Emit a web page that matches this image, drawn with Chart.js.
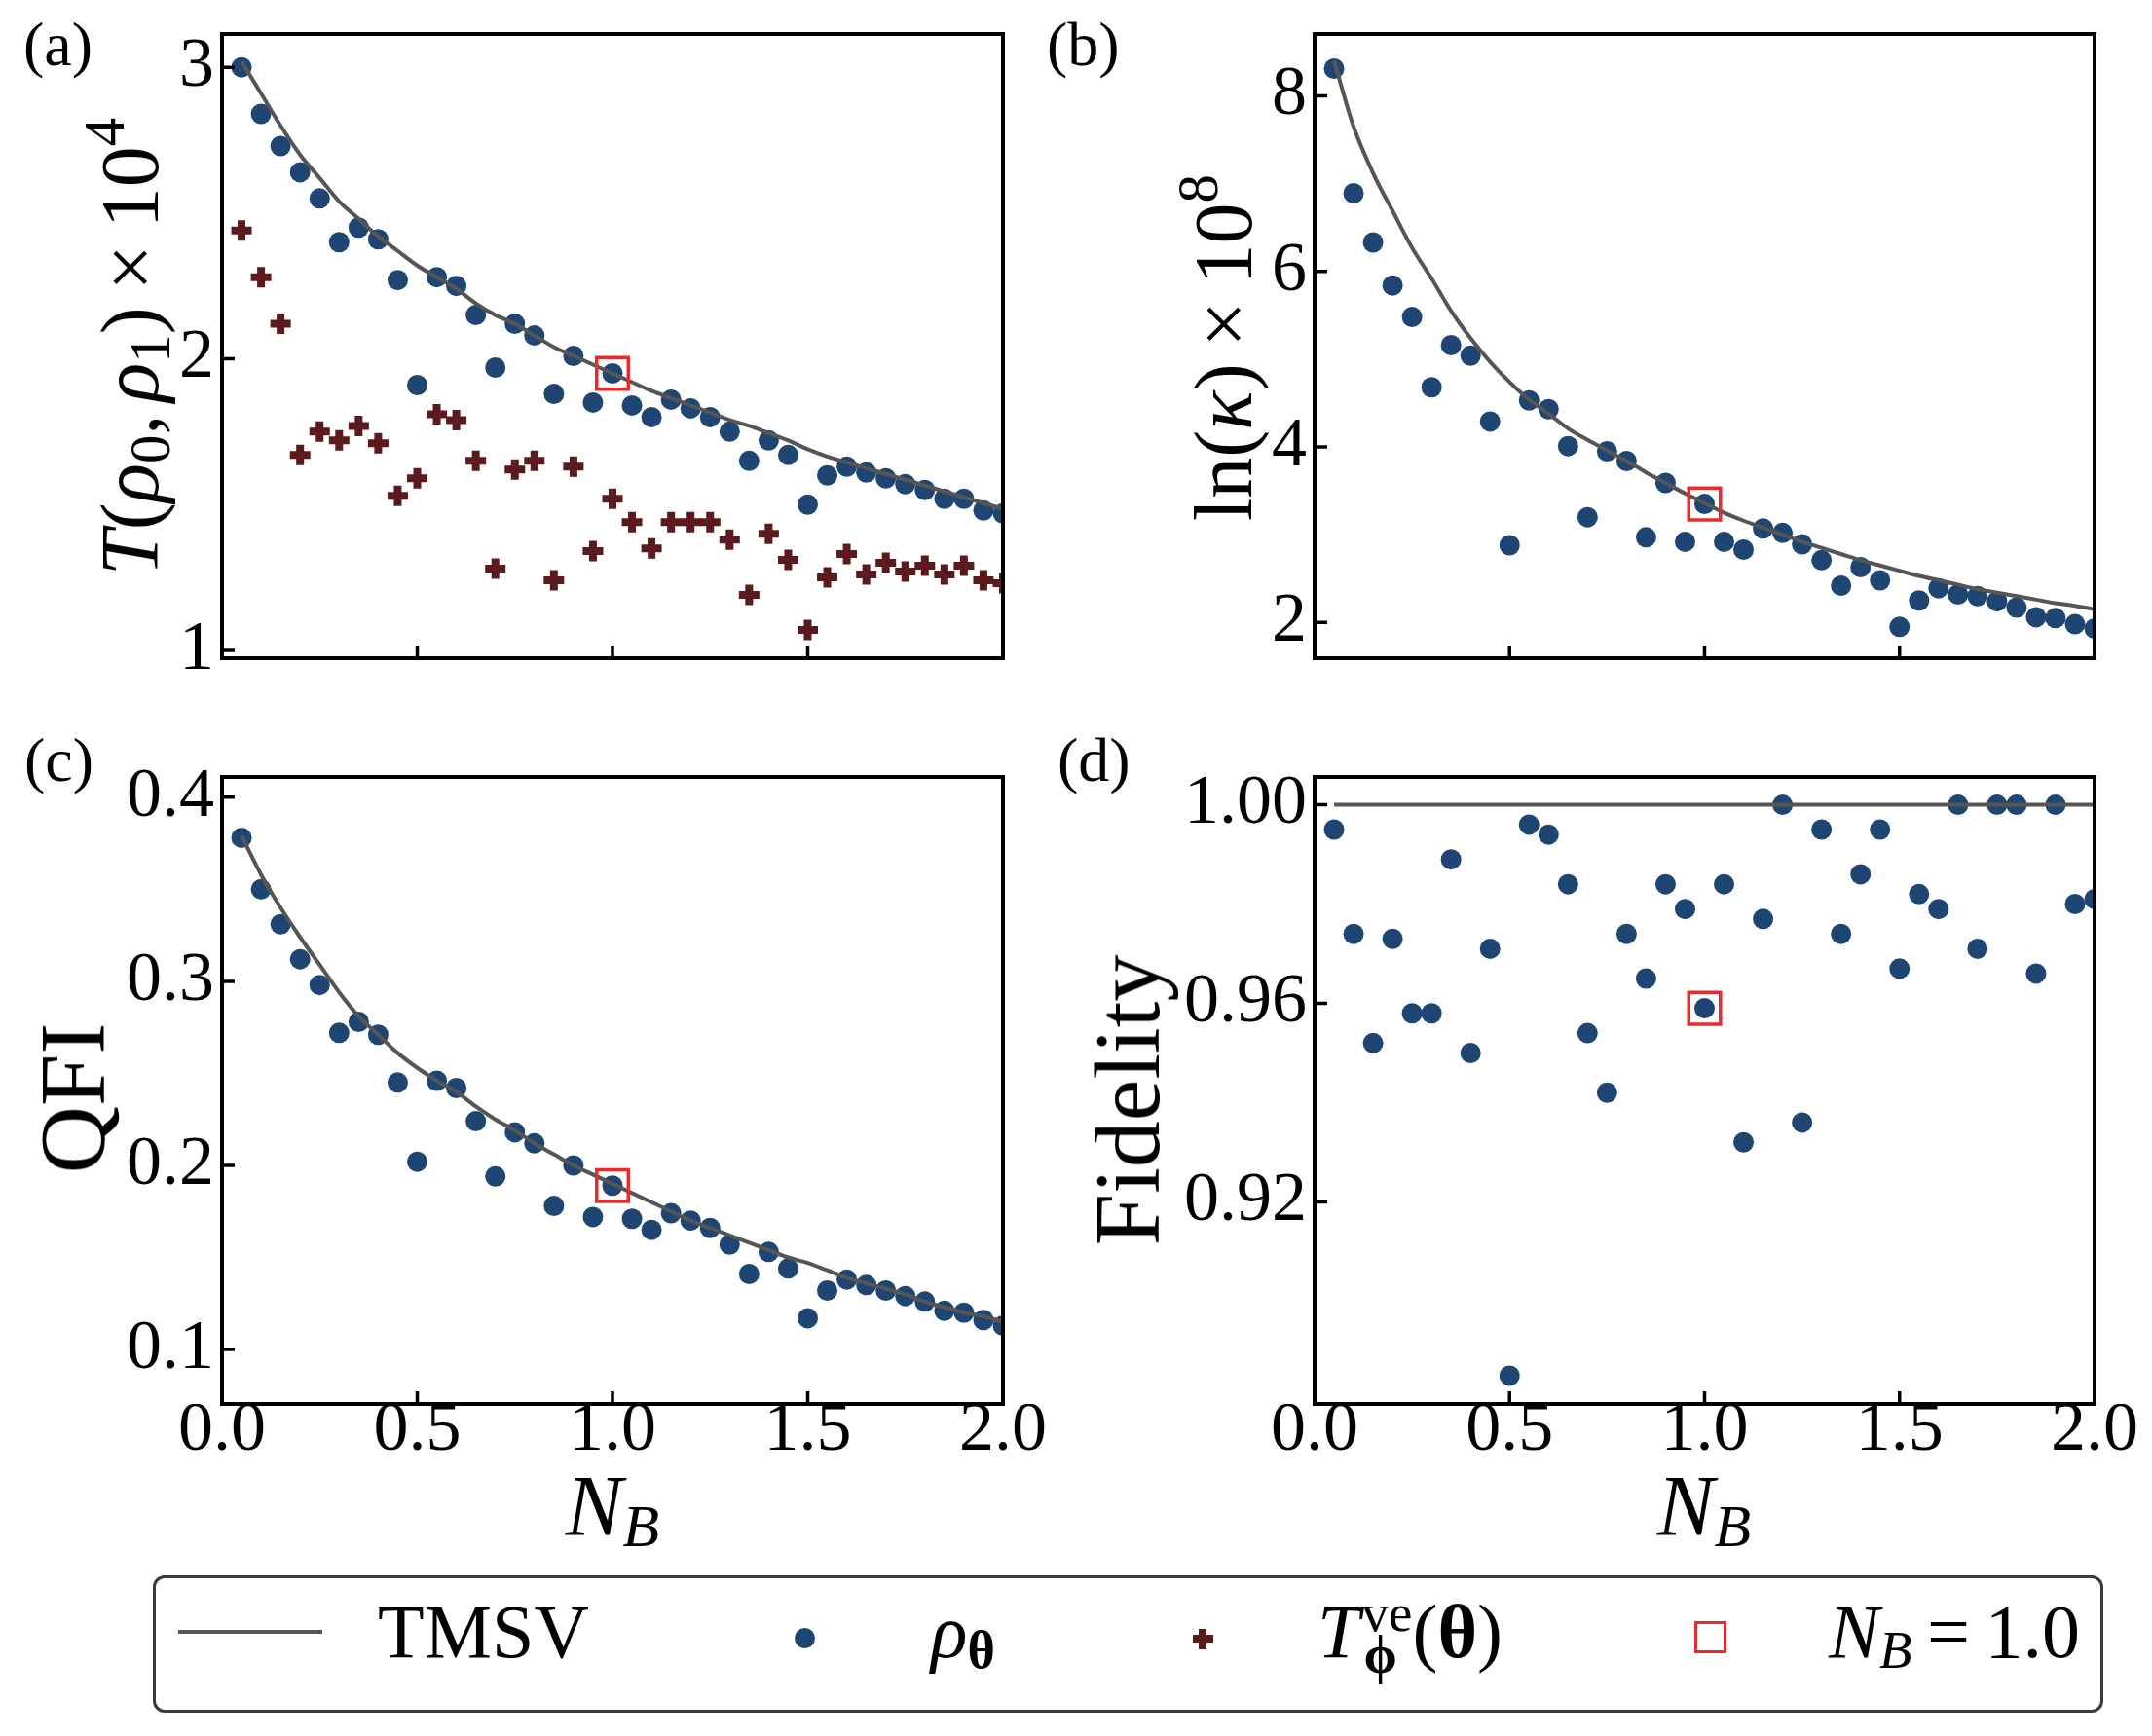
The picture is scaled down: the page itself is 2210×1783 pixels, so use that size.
<!DOCTYPE html>
<html>
<head>
<meta charset="utf-8">
<script src="https://cdn.jsdelivr.net/npm/chart.js@4.4.1/dist/chart.umd.min.js"></script>
<style>
  body { margin: 0; background: #fff; }
  #page { position: relative; width: 2210px; height: 1783px; overflow: hidden; background: #fff;
          font-family: "Liberation Serif", "Times New Roman", serif; color: #000; }
  canvas { position: absolute; }
  .lbl { position: absolute; line-height: 1; white-space: nowrap; }
  .rot { transform: translate(-50%, -50%) rotate(-90deg); }
  .ctr { transform: translateX(-50%); }
  .sb { font-size: 0.7em; position: relative; top: 0.2em; }
  .sp { font-size: 0.7em; position: relative; top: -0.6em; }
  .op { margin: 0 0.2em; }
  .cm { margin-right: 0.15em; }
  #legend { position: absolute; left: 157px; top: 1618px; width: 1997px; height: 135px;
            border: 3px solid #3a3a3a; border-radius: 12px; }
  .mk { position: absolute; }
</style>
</head>
<body>
<div id="page">
  <canvas id="pa"></canvas>
  <canvas id="pb"></canvas>
  <canvas id="pc"></canvas>
  <canvas id="pd"></canvas>

  <div class="lbl" style="left:24px;top:14px;font-size:64px">(a)</div>
  <div class="lbl" style="left:1075px;top:14px;font-size:64px">(b)</div>
  <div class="lbl" style="left:25px;top:749px;font-size:64px">(c)</div>
  <div class="lbl" style="left:1086px;top:749px;font-size:64px">(d)</div>

  <div class="lbl rot" style="left:134px;top:356px;font-size:84px"><i>T</i>(<i>ρ</i><span class="sb">0</span><span class="cm">,</span><i>ρ</i><span class="sb">1</span>)<span class="op">×</span>10<span class="sp">4</span></div>
  <div class="lbl rot" style="left:1257px;top:357px;font-size:84px">ln(<i>κ</i>)<span class="op">×</span>10<span class="sp">8</span></div>
  <div class="lbl rot" style="left:75px;top:1128px;font-size:96px">QFI</div>
  <div class="lbl rot" style="left:1158px;top:1130px;font-size:96px">Fidelity</div>

  <div class="lbl ctr" style="left:629px;top:1503px;font-size:88px"><i>N</i><span class="sb"><i>B</i></span></div>
  <div class="lbl ctr" style="left:1750px;top:1503px;font-size:88px"><i>N</i><span class="sb"><i>B</i></span></div>

  <div id="legend"></div>
  <div class="mk" style="left:183px;top:1674px;width:148px;height:4px;background:#555"></div>
  <div class="lbl" style="left:388px;top:1637px;font-size:78px">TMSV</div>
  <div class="mk" style="left:816px;top:1672px;width:21px;height:21px;border-radius:50%;background:#1f4672"></div>
  <div class="lbl" style="left:956px;top:1637px;font-size:78px"><i>ρ</i><span class="sb"><b>θ</b></span></div>
  <div class="mk" style="left:1225px;top:1679px;width:21px;height:8px;background:#5b1a1e"></div>
  <div class="mk" style="left:1231px;top:1673px;width:8px;height:21px;background:#5b1a1e"></div>
  <div class="lbl" style="left:1353px;top:1637px;font-size:78px"><i>T</i><span style="display:inline-block;position:relative;width:54px;height:0;"><span style="position:absolute;left:2px;top:-73px;font-size:55px;line-height:1">ve</span><span style="position:absolute;left:4px;top:-30px;font-size:55px;line-height:1;font-weight:bold">ϕ</span></span>(<b>θ</b>)</div>
  <div class="mk" style="left:1740px;top:1665px;width:27px;height:27px;border:3.5px solid #e52b2b"></div>
  <div class="lbl" style="left:1878px;top:1637px;font-size:78px"><i>N</i><span class="sb"><i>B</i></span><span class="op">=</span>1.0</div>
</div>

<script>
// N_B sample points shared by every panel
const NB = [0.05, 0.10, 0.15, 0.20, 0.25, 0.30, 0.35, 0.40, 0.45, 0.50,
            0.55, 0.60, 0.65, 0.70, 0.75, 0.80, 0.85, 0.90, 0.95, 1.00,
            1.05, 1.10, 1.15, 1.20, 1.25, 1.30, 1.35, 1.40, 1.45, 1.50,
            1.55, 1.60, 1.65, 1.70, 1.75, 1.80, 1.85, 1.90, 1.95, 2.00];
const MARK_NB = 1.0;
const X_TICKS = [0, 0.5, 1.0, 1.5, 2.0];

// (a) T(rho0, rho1) x 1e4
const A_TMSV = [3.02, 2.91, 2.80, 2.70, 2.62, 2.54, 2.48, 2.42, 2.37, 2.32,
                2.28, 2.24, 2.19, 2.15, 2.12, 2.08, 2.04, 2.01, 1.98, 1.95,
                1.92, 1.89, 1.865, 1.84, 1.815, 1.79, 1.77, 1.745, 1.72, 1.69,
                1.665, 1.645, 1.625, 1.605, 1.585, 1.565, 1.545, 1.525, 1.505, 1.485];
const A_RHO = [3.00, 2.84, 2.73, 2.64, 2.55, 2.40, 2.45, 2.41, 2.27, 1.91,
               2.28, 2.25, 2.15, 1.97, 2.12, 2.08, 1.88, 2.01, 1.85, 1.95,
               1.84, 1.80, 1.86, 1.83, 1.80, 1.75, 1.65, 1.72, 1.67, 1.50,
               1.60, 1.63, 1.61, 1.59, 1.57, 1.55, 1.52, 1.52, 1.48, 1.47];
const A_TVE = [2.44, 2.28, 2.12, 1.67, 1.75, 1.72, 1.77, 1.71, 1.53, 1.59,
               1.81, 1.79, 1.65, 1.28, 1.62, 1.65, 1.24, 1.63, 1.34, 1.52,
               1.44, 1.35, 1.44, 1.44, 1.44, 1.38, 1.19, 1.40, 1.31, 1.07,
               1.25, 1.33, 1.26, 1.30, 1.27, 1.29, 1.26, 1.29, 1.24, 1.23];
const A_YTICKS = [1, 2, 3];

// (b) ln(kappa) x 1e8
const B_TMSV = [8.40, 7.65, 7.12, 6.69, 6.27, 5.92, 5.55, 5.24, 4.97, 4.74,
                4.54, 4.38, 4.21, 4.08, 3.96, 3.84, 3.71, 3.59, 3.47, 3.36,
                3.25, 3.16, 3.08, 3.00, 2.92, 2.85, 2.78, 2.71, 2.65, 2.59,
                2.53, 2.48, 2.43, 2.38, 2.34, 2.30, 2.26, 2.22, 2.19, 2.15];
const B_RHO = [8.31, 6.89, 6.33, 5.84, 5.48, 4.68, 5.16, 5.04, 4.29, 2.88,
               4.53, 4.43, 4.01, 3.20, 3.95, 3.84, 2.97, 3.59, 2.92, 3.35,
               2.92, 2.83, 3.07, 3.02, 2.89, 2.71, 2.42, 2.63, 2.48, 1.95,
               2.25, 2.39, 2.32, 2.30, 2.24, 2.17, 2.06, 2.05, 1.98, 1.93];
const B_YTICKS = [2, 4, 6, 8];

// (c) QFI
const C_TMSV = [0.379, 0.358, 0.340, 0.324, 0.309, 0.294, 0.281, 0.271, 0.261, 0.253,
                0.246, 0.240, 0.232, 0.225, 0.219, 0.212, 0.206, 0.200, 0.195, 0.190,
                0.185, 0.180, 0.175, 0.170, 0.166, 0.162, 0.158, 0.154, 0.150, 0.147,
                0.143, 0.139, 0.136, 0.133, 0.130, 0.126, 0.123, 0.120, 0.118, 0.115];
const C_RHO = [0.378, 0.350, 0.331, 0.312, 0.298, 0.272, 0.278, 0.271, 0.245, 0.202,
               0.246, 0.242, 0.224, 0.194, 0.218, 0.212, 0.178, 0.200, 0.172, 0.189,
               0.171, 0.165, 0.174, 0.170, 0.166, 0.157, 0.141, 0.153, 0.144, 0.117,
               0.132, 0.138, 0.135, 0.132, 0.129, 0.126, 0.121, 0.120, 0.116, 0.113];
const C_YTICKS = [0.1, 0.2, 0.3, 0.4];

// (d) Fidelity
const D_TMSV = [1.000, 1.000, 1.000, 1.000, 1.000, 1.000, 1.000, 1.000, 1.000, 1.000,
                1.000, 1.000, 1.000, 1.000, 1.000, 1.000, 1.000, 1.000, 1.000, 1.000,
                1.000, 1.000, 1.000, 1.000, 1.000, 1.000, 1.000, 1.000, 1.000, 1.000,
                1.000, 1.000, 1.000, 1.000, 1.000, 1.000, 1.000, 1.000, 1.000, 1.000];
const D_RHO = [0.995, 0.974, 0.952, 0.973, 0.958, 0.958, 0.989, 0.950, 0.971, 0.885,
               0.996, 0.994, 0.984, 0.954, 0.942, 0.974, 0.965, 0.984, 0.979, 0.959,
               0.984, 0.932, 0.977, 1.000, 0.936, 0.995, 0.974, 0.986, 0.995, 0.967,
               0.982, 0.979, 1.000, 0.971, 1.000, 1.000, 0.966, 1.000, 0.980, 0.981];
const D_YTICKS = [0.92, 0.96, 1.00];

const FONT = '"Liberation Serif", "Times New Roman", serif';
const BLUE = '#1f4672';
const WINE = '#5b1a1e';
const GREY = '#555555';
const RED = '#e52b2b';

// ─── Frame with inward ticks on the left and bottom ─────────────────────────

const frameTicks = {
  id: 'frameTicks',
  afterDraw(chart) {
    const { ctx, chartArea: a, scales: { x, y } } = chart;
    ctx.save();
    ctx.strokeStyle = '#000';
    ctx.lineWidth = 3.5;
    ctx.beginPath();
    x.ticks.forEach(t => {
      const px = x.getPixelForValue(t.value);
      ctx.moveTo(px, a.bottom);
      ctx.lineTo(px, a.bottom - 13);
    });
    y.ticks.forEach(t => {
      const py = y.getPixelForValue(t.value);
      ctx.moveTo(a.left, py);
      ctx.lineTo(a.left + 13, py);
    });
    ctx.stroke();
    ctx.lineWidth = 4;
    ctx.strokeRect(a.left, a.top, a.right - a.left, a.bottom - a.top);
    ctx.restore();
  }
};

function pts(ys) {
  return NB.map((x, i) => ({ x, y: ys[i] }));
}

// area = [left, top, right, bottom] of the plot box in page pixels
function renderPanel(id, area, yRange, yTicks, yFmt, showX, tmsv, rho, tve) {
  const WY = 150, P = 90, HX = 90;
  const w = area[2] - area[0] + WY + P;
  const h = area[3] - area[1] + P + HX;
  const cv = document.getElementById(id);
  cv.style.left = (area[0] - WY) + 'px';
  cv.style.top = (area[1] - P) + 'px';
  cv.style.width = w + 'px';
  cv.style.height = h + 'px';
  cv.width = w;
  cv.height = h;

  const i1 = NB.indexOf(MARK_NB);
  const datasets = [
    { data: [{ x: MARK_NB, y: rho[i1] }], pointStyle: 'rect', pointRadius: 23,
      borderColor: RED, borderWidth: 3.5, backgroundColor: 'rgba(0,0,0,0)', order: 0, clip: 0 },
    { data: pts(tmsv), showLine: true, borderColor: GREY, borderWidth: 4, pointRadius: 0,
      cubicInterpolationMode: 'monotone', fill: false, order: 1, clip: 0 },
  ];
  if (tve) {
    datasets.push({ data: pts(tve), pointStyle: 'cross', pointRadius: 10.5,
      borderColor: WINE, borderWidth: 8, order: 2, clip: 0 });
  }
  datasets.push({ data: pts(rho), pointStyle: 'circle', pointRadius: 10.5,
    backgroundColor: BLUE, borderWidth: 0, order: 3, clip: 0 });

  const tickFont = { family: FONT, size: 72, lineHeight: 1 };
  new Chart(cv, {
    type: 'scatter',
    data: { datasets },
    options: {
      responsive: false,
      animation: false,
      devicePixelRatio: 1,
      layout: { padding: { left: 0, top: P, right: P, bottom: 0 } },
      plugins: { legend: { display: false }, tooltip: { enabled: false } },
      scales: {
        x: {
          type: 'linear', min: 0, max: 2,
          afterBuildTicks: s => { s.ticks = X_TICKS.map(v => ({ value: v })); },
          afterFit: s => { s.height = HX; },
          grid: { display: false, drawTicks: false },
          border: { display: false },
          ticks: { display: showX, color: '#000', font: tickFont, padding: -8,
                   maxRotation: 0, autoSkip: false, callback: v => v.toFixed(1) },
        },
        y: {
          type: 'linear', min: yRange[0], max: yRange[1],
          afterBuildTicks: s => { s.ticks = yTicks.map(v => ({ value: v })); },
          afterFit: s => { s.width = WY; },
          grid: { display: false, drawTicks: false },
          border: { display: false },
          ticks: { color: '#000', font: tickFont, padding: 8, autoSkip: false, callback: yFmt },
        },
      },
    },
    plugins: [frameTicks],
  });
}

renderPanel('pa', [228, 35, 1030, 676], [0.973, 3.114], A_YTICKS, v => String(v), false, A_TMSV, A_RHO, A_TVE);
renderPanel('pb', [1350, 35, 2151, 676], [1.593, 8.704], B_YTICKS, v => String(v), false, B_TMSV, B_RHO, null);
renderPanel('pc', [228, 798, 1030, 1442], [0.0704, 0.411], C_YTICKS, v => v.toFixed(1), true, C_TMSV, C_RHO, null);
renderPanel('pd', [1350, 798, 2151, 1442], [0.8793, 1.0056], D_YTICKS, v => v.toFixed(2), true, D_TMSV, D_RHO, null);
</script>
</body>
</html>
